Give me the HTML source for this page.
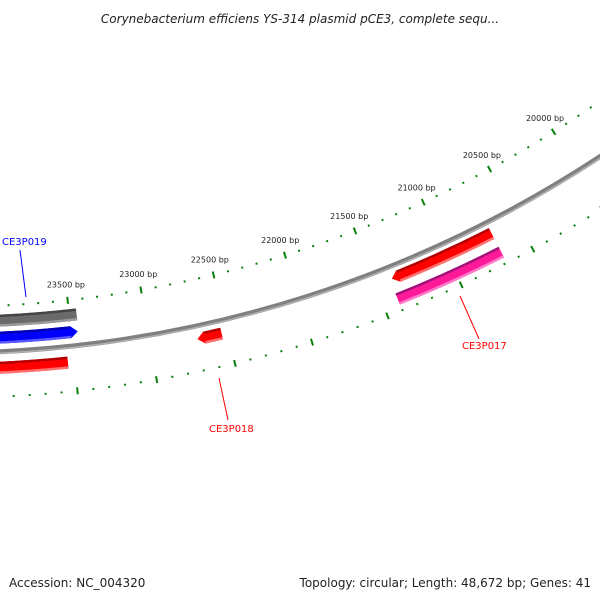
<!DOCTYPE html>
<html><head><meta charset="utf-8"><style>
html,body{margin:0;padding:0;background:#fff}
svg{display:block}
text{font-family:"DejaVu Sans","Liberation Sans",sans-serif}
</style></head><body>
<svg id="map" width="600" height="600" viewBox="0 0 600 600" xmlns="http://www.w3.org/2000/svg">
<defs><clipPath id="clip"><rect x="0" y="0" width="600" height="600"/></clipPath></defs>
<text x="300" y="23" text-anchor="middle" font-size="12" font-style="italic" fill="#222">Corynebacterium efficiens YS-314 plasmid pCE3, complete sequ...</text>
<g id="plot" clip-path="url(#clip)"></g>
<text x="9" y="587" font-size="12" fill="#222">Accession: NC_004320</text>
<text x="591" y="587" text-anchor="end" font-size="12" fill="#222">Topology: circular; Length: 48,672 bp; Genes: 41</text>
</svg>
<script>
const seqLength = 48672;
const tickStart = 19000, tickEnd = 24400, minorStep = 100, majorStep = 500;
const labelTicks = [20000, 20500, 21000, 21500, 22000, 22500, 23000, 23500];
const featureNames = ["gray-feature", "CE3P019", "red-feature-left", "CE3P018", "CE3P017", "pink-feature"];
const featureStarts = [23451, 23456, 23541, 22538, 20685, 20684];
const featureEnds = [24400, 24400, 24400, 22697, 21389, 21402];
const featureArrow = ["none", "start", "none", "end", "end", "none"];
const featureTrack = [1163, 1180, 1210, 1207, 1206, 1227];
const featureColors = ["#6a6a6a", "#0000ff", "#ff0000", "#ff0000", "#ff0000", "#ff1a9a"];
const featureDark = ["#444", "#0000b0", "#b00000", "#b00000", "#b00000", "#a0147a"];
const featureLight = ["#9a9a9a", "#5a5aff", "#ff7070", "#ff7070", "#ff7070", "#ff7ac8"];
const labelNames = ["CE3P019", "CE3P018", "CE3P017"];
const labelColors = ["#0000ff", "#ff0000", "#ff0000"];
const labelPos = [[2,245,20,250,26,297],[209,432,228,420,219,378],[462,349,479,339,460,296]];

const cx = -56, cy = -841, rBackbone = 1194, rOuterTicks = 1148, rInnerTicks = 1239;
const NS = "http://www.w3.org/2000/svg";
const plot = document.getElementById("plot");
function ang(bp){ return bp / seqLength * 2 * Math.PI; }
function P(bp, r){ const t = ang(bp); return [cx + r*Math.sin(t), cy - r*Math.cos(t)]; }
function mk(tag, attrs){ const e = document.createElementNS(NS, tag); for (const k in attrs) e.setAttribute(k, attrs[k]); plot.appendChild(e); return e; }
function arcD(a, b, r){ const p = P(a, r), q = P(b, r); return `M${p[0]},${p[1]} A${r},${r} 0 0 1 ${q[0]},${q[1]}`; }

// backbone
let bb = mk("path", {d: arcD(15000, 26000, rBackbone), fill: "none", stroke: "#808080", "stroke-width": 5});


let bb2 = mk("path", {d: arcD(15000, 26000, rBackbone + 1.5), fill: "none", stroke: "#b0b0b0", "stroke-width": 1.5});



// ticks
for (const ring of [rOuterTicks, rInnerTicks]) {
  for (let bp = tickStart; bp <= tickEnd; bp += minorStep) {
    const major = bp % majorStep === 0;
    const len = major ? 7 : 2;
    const p = P(bp, ring - len/2), q = P(bp, ring + len/2);
    const t = mk("line", {x1: p[0], y1: p[1], x2: q[0], y2: q[1], stroke: "#0a800a", "stroke-width": 2});
    
    
  }
}
for (const bp of labelTicks) {
  const p = P(bp, rOuterTicks - 16);
  const t = mk("text", {x: p[0], y: p[1] + 3, "text-anchor": "middle", "font-size": 8, fill: "#222"});
  t.textContent = bp + " bp";
  
  
}

// features
for (let i = 0; i < featureNames.length; i++) {
  const a = featureStarts[i], b = featureEnds[i], rm = featureTrack[i];
  const h = 6, r1 = rm - h, r2 = rm + h;
  const head = 7 / rm * seqLength / (2*Math.PI);
  let sa = a, sb = b, d;
  if (featureArrow[i] === "start") sa = a + head;
  if (featureArrow[i] === "end") sb = b - head;
  const p1 = P(sa, r1), p2 = P(sb, r1), p3 = P(sb, r2), p4 = P(sa, r2);
  d = `M${p1[0]},${p1[1]} A${r1},${r1} 0 0 1 ${p2[0]},${p2[1]}`;
  if (featureArrow[i] === "end") { const t = P(b, rm); d += ` L${t[0]},${t[1]}`; }
  d += ` L${p3[0]},${p3[1]} A${r2},${r2} 0 0 0 ${p4[0]},${p4[1]}`;
  if (featureArrow[i] === "start") { const t = P(a, rm); d += ` L${t[0]},${t[1]}`; }
  d += " Z";
  const f = mk("path", {d: d, fill: featureColors[i]});
  
  
  const dk = mk("path", {d: arcD(sa, sb, r1 + 1.2), fill: "none", stroke: featureDark[i], "stroke-width": 2.4});
  
  
  const lt = mk("path", {d: arcD(sa, sb, r2 - 1.2), fill: "none", stroke: featureLight[i], "stroke-width": 2.4});
  
  
}

// labels
for (let i = 0; i < labelNames.length; i++) {
  const L = labelPos[i];
  const ln = mk("line", {x1: L[2], y1: L[3], x2: L[4], y2: L[5], stroke: labelColors[i], "stroke-width": 1});
  
  
  const t = mk("text", {x: L[0], y: L[1], "font-size": 10, fill: labelColors[i]});
  t.textContent = labelNames[i];
  
  
}
</script>
</body></html>
